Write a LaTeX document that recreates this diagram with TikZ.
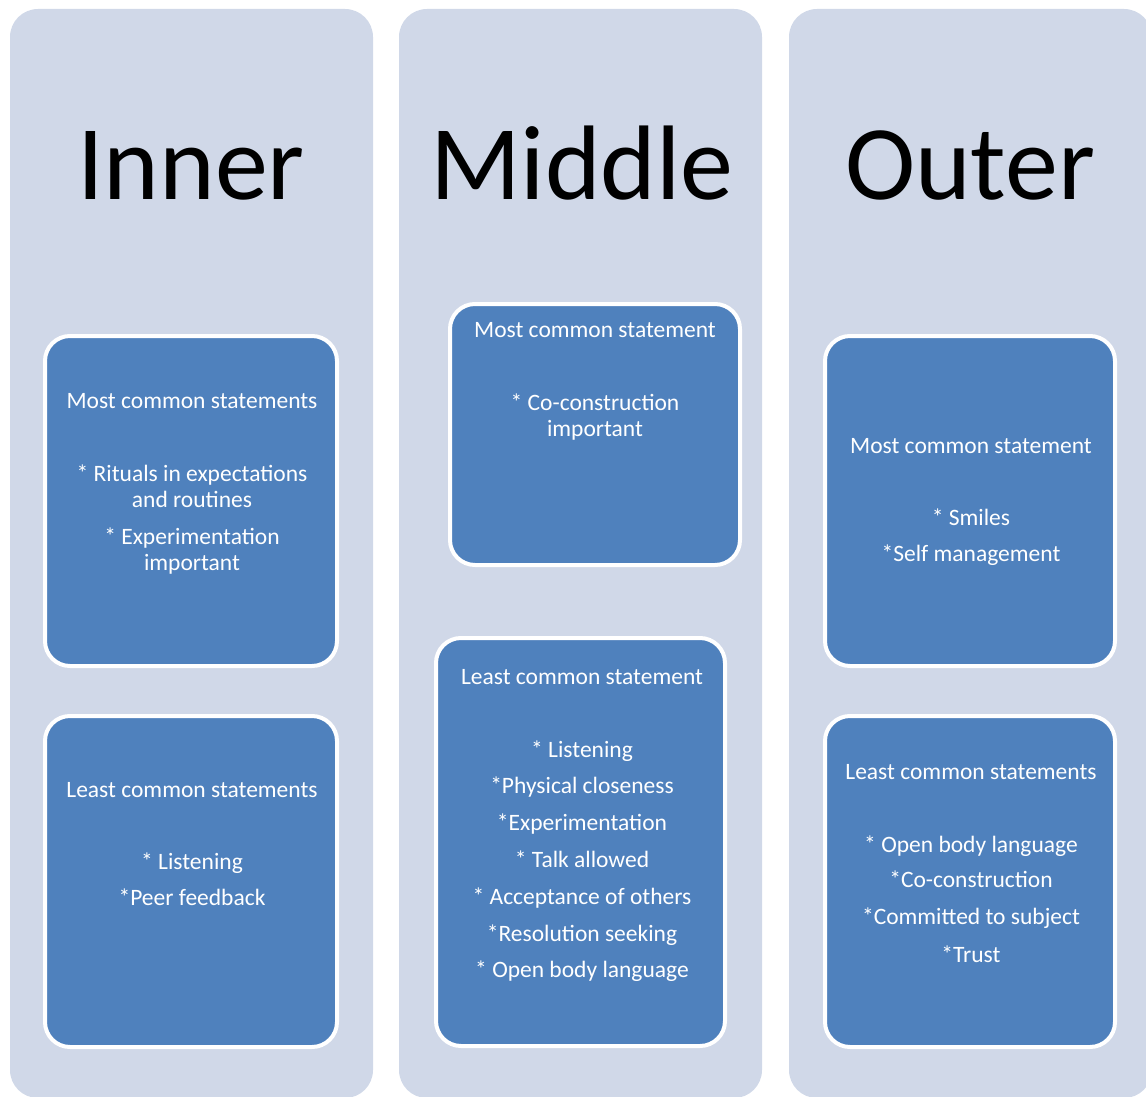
\documentclass[tikz,border=0pt]{standalone}
\usepackage{fontspec}
\setmainfont{Carlito}
\definecolor{colbg}{HTML}{D0D8E8}
\definecolor{boxbl}{HTML}{4F81BD}
\begin{document}
\begin{tikzpicture}[x=1pt,y=-1pt,
  column/.style={fill=colbg, rounded corners=28pt},
  panel/.style={draw=white, line width=4pt, fill=boxbl, rounded corners=25pt},
  title/.style={font=\fontsize{106}{110}\selectfont, text=black, anchor=base, inner sep=0pt},
  txt/.style={font=\fontsize{23.5}{26}\selectfont, text=white, anchor=base, inner sep=0pt}]
\useasboundingbox (0,0) rectangle (1146,1097);
\clip (0,0) rectangle (1146,1097);
% columns
\path[column] (10,9) rectangle (373,1098);
\path[column] (399,9) rectangle (762,1098);
\path[column] (789,9) rectangle (1152,1098);
% titles
\node[title] (tInner) at (191,200) {Inner};
\node[title] (tMiddle) at (582,200) {Middle};
\node[title] (tOuter) at (970,200) {Outer};
% panels
\path[panel] (45,336) rectangle (337,666);
\path[panel] (45,716) rectangle (337,1047);
\path[panel] (450,304) rectangle (740,565);
\path[panel] (436,638) rectangle (725,1046);
\path[panel] (825,336) rectangle (1115,666);
\path[panel] (825,716) rectangle (1115,1047);
% inner most
\node[txt] (im0) at (192,408) {Most common statements};
\node[txt] (im1) at (192,481) {* Rituals in expectations};
\node[txt] (im2) at (192,507) {and routines};
\node[txt] (im3) at (192,544) {* Experimentation};
\node[txt] (im4) at (192,570) {important};
% inner least
\node[txt] (il0) at (192,797) {Least common statements};
\node[txt] (il1) at (192,869) {* Listening};
\node[txt] (il2) at (192,905) {*Peer feedback};
% middle most
\node[txt] (mm0) at (595,337) {Most common statement};
\node[txt] (mm1) at (595,410) {* Co-construction};
\node[txt] (mm2) at (595,436) {important};
% middle least
\node[txt] (ml0) at (582,684) {Least common statement};
\node[txt] (ml1) at (582,757) {* Listening};
\node[txt] (ml2) at (582,793) {*Physical closeness};
\node[txt] (ml3) at (582,830) {*Experimentation};
\node[txt] (ml4) at (582,867) {* Talk allowed};
\node[txt] (ml5) at (582,904) {* Acceptance of others};
\node[txt] (ml6) at (582,941) {*Resolution seeking};
\node[txt] (ml7) at (582,977) {* Open body language};
% outer most
\node[txt] (om0) at (971,453) {Most common statement};
\node[txt] (om1) at (971,525) {* Smiles};
\node[txt] (om2) at (971,561) {*Self management};
% outer least
\node[txt] (ol0) at (971,779) {Least common statements};
\node[txt] (ol1) at (971,852) {* Open body language};
\node[txt] (ol2) at (971,887) {*Co-construction};
\node[txt] (ol3) at (971,924) {*Committed to subject};
\node[txt] (ol4) at (971,962) {*Trust};
\end{tikzpicture}
\end{document}
